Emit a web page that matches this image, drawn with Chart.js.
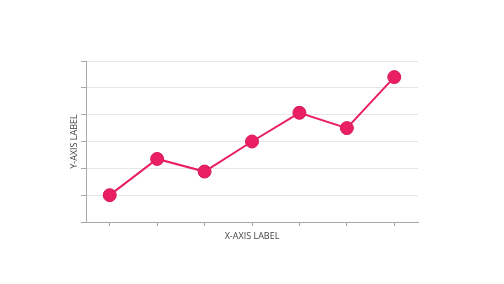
<!DOCTYPE html>
<html>
<head>
<meta charset="utf-8">
<script src="https://cdn.jsdelivr.net/npm/chart.js@4"></script>
<style>
  html, body { margin: 0; padding: 0; background: #fff; }
  #wrap { width: 504px; height: 284px; }
</style>
</head>
<body>
<div id="wrap"><canvas id="chart" width="504" height="284"></canvas></div>
<script>
// values
const categories = ['1', '2', '3', '4', '5', '6', '7']
const values = [1, 2.35, 1.88, 3, 4.07, 3.5, 5.4]
const yTicks = [0, 1, 2, 3, 4, 5, 6]

const pink = '#e91e63'
const axisGrey = '#a8a8a8'
const titleFont = {family: "'Open Sans', sans-serif", size: 9}

new Chart(document.getElementById('chart'), {
    type: 'line',
    data: {
        labels: categories,
        datasets: [{
            data: values,
            borderColor: pink,
            backgroundColor: pink,
            borderWidth: 2,
            pointRadius: 6.5,
            pointBorderWidth: 1,
            pointBorderColor: '#d81b60',
            pointBackgroundColor: pink,
            tension: 0
        }]
    },
    options: {
        responsive: false,
        animation: false,
        layout: {padding: {left: 0, top: 61, right: 86, bottom: 0}},
        plugins: {legend: {display: false}, tooltip: {enabled: false}},
        scales: {
            x: {
                offset: true,
                grid: {display: true, drawOnChartArea: false, drawTicks: true, tickLength: 4, tickColor: axisGrey},
                border: {color: axisGrey},
                ticks: {display: false},
                title: {display: true, text: 'X-AXIS LABEL', color: '#444', font: titleFont, padding: {top: 0, bottom: 42}},
                afterFit: s => { s.height = 62 }
            },
            y: {
                min: yTicks[0],
                max: yTicks[yTicks.length - 1],
                afterBuildTicks: s => { s.ticks = yTicks.map(v => ({value: v})) },
                grid: {color: '#e6e6e6', tickLength: 5, tickColor: axisGrey},
                border: {color: axisGrey},
                ticks: {display: false},
                title: {display: true, text: 'Y-AXIS LABEL', color: '#444', font: titleFont, padding: {top: 69, bottom: 0}},
                afterFit: s => { s.width = 86 }
            }
        }
    }
})
</script>
</body>
</html>
